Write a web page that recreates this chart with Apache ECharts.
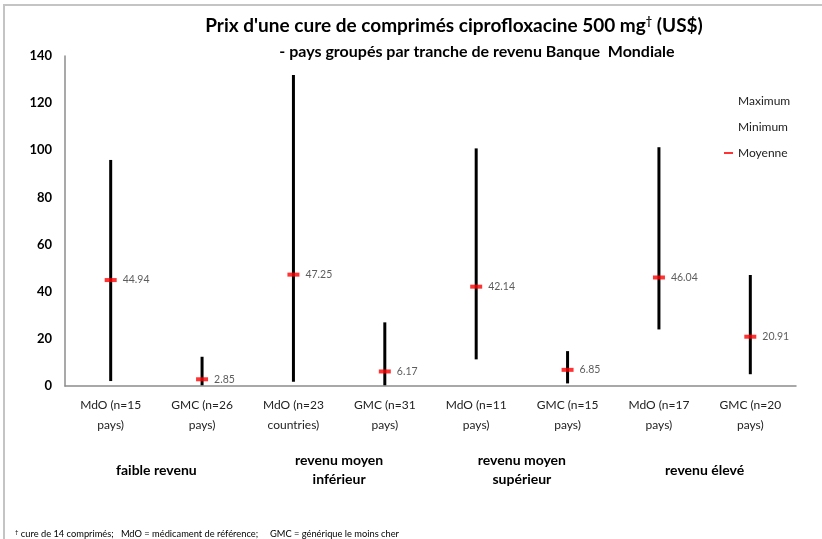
<!DOCTYPE html>
<html>
<head>
<meta charset="utf-8">
<script src="https://cdn.jsdelivr.net/npm/echarts@6/dist/echarts.min.js"></script>
<style>
  html, body { margin: 0; padding: 0; background: #fff; }
  #chart { width: 822px; height: 539px; }
</style>
</head>
<body>
<div id="chart"></div>
<script>
const categories = ['MdO (n=15\npays)', 'GMC (n=26\npays)', 'MdO (n=23\ncountries)', 'GMC (n=31\npays)',
  'MdO (n=11\npays)', 'GMC (n=15\npays)', 'MdO (n=17\npays)', 'GMC (n=20\npays)']
const groups = ['faible revenu', 'revenu moyen\ninférieur', 'revenu moyen\nsupérieur', 'revenu élevé']
const maxima = [95.9, 12.4, 131.9, 27.0, 100.8, 14.8, 101.3, 47.1]
const minima = [2.1, 0.3, 1.8, 0.3, 11.3, 1.1, 24.0, 5.0]
const means = [44.94, 2.85, 47.25, 6.17, 42.14, 6.85, 46.04, 20.91]
const yTicks = [0, 20, 40, 60, 80, 100, 120, 140]

const font = 'Lato'
const chart = echarts.init(document.getElementById('chart'))

const option = {
  animation: false,
  textStyle: { fontFamily: font },
  title: [
    {
      text: "Prix d'une cure de comprimés ciprofloxacine 500 mg{sup|†} (US$)",
      left: 449, top: 11, textAlign: 'center',
      textStyle: {
        fontFamily: font, fontSize: 19, fontWeight: 'bold', color: '#000',
        rich: { sup: { fontFamily: font, fontSize: 11, fontWeight: 'bold', color: '#000', verticalAlign: 'top', padding: [0, 0, 8, 0] } }
      }
    },
    {
      text: '- pays groupés par tranche de revenu Banque  Mondiale',
      left: 472, top: 39, textAlign: 'center',
      textStyle: { fontFamily: font, fontSize: 16, fontWeight: 'bold', color: '#000' }
    },
    {
      text: '{sup|†} cure de 14 comprimés;   MdO = médicament de référence;     GMC = générique le moins cher',
      left: 10, top: 524,
      textStyle: {
        fontFamily: font, fontSize: 9.3, fontWeight: 'normal', color: '#000',
        rich: { sup: { fontSize: 6, verticalAlign: 'top', color: '#000' } }
      }
    }
  ],
  graphic: [{
    type: 'rect', silent: true, z: -1,
    shape: { x: 4, y: 5, width: 840, height: 560 },
    style: { fill: 'none', stroke: '#c4c4c4', lineWidth: 2 }
  }],
  legend: {
    orient: 'vertical', left: 719, top: 90, itemGap: 14,
    itemWidth: 9, itemHeight: 2,
    textStyle: { fontFamily: font, fontSize: 12, color: '#222' },
    data: [
      { name: 'Maximum', icon: 'none' },
      { name: 'Minimum', icon: 'none' },
      { name: 'Moyenne', icon: 'rect', itemStyle: { color: '#ff0000' } }
    ],
    selectedMode: false
  },
  grid: { left: 65, right: 26, top: 56, bottom: 153 },
  xAxis: [
    {
      type: 'category', data: categories,
      axisLine: { lineStyle: { color: '#8c8c8c', width: 1.5 } },
      axisTick: { length: 5, lineStyle: { color: '#8c8c8c' } },
      axisLabel: { fontFamily: font, fontSize: 12, color: '#222', lineHeight: 20, margin: 9, interval: 0 }
    },
    {
      type: 'category', data: groups, position: 'bottom', gridIndex: 0,
      axisLine: { show: false }, axisTick: { show: false },
      axisLabel: { fontFamily: font, fontSize: 14, fontWeight: 'bold', color: '#000', lineHeight: 19, margin: 84, verticalAlign: 'middle', interval: 0 }
    }
  ],
  yAxis: {
    type: 'value', min: 0, max: 140, interval: 20,
    axisLine: { show: true, lineStyle: { color: '#8c8c8c', width: 1.5 } },
    axisTick: { show: false },
    splitLine: { show: false },
    axisLabel: {
      fontFamily: font, fontSize: 13, fontWeight: 'bold', color: '#000', margin: 13,
      formatter: v => (yTicks.includes(v) ? String(v) : '')
    }
  },
  series: [
    {
      name: 'Range', type: 'custom', silent: true, z: 2,
      data: categories.map((c, i) => [i, minima[i], maxima[i]]),
      renderItem: (params, api) => {
        const lo = api.coord([api.value(0), api.value(1)])
        const hi = api.coord([api.value(0), api.value(2)])
        return {
          type: 'line',
          shape: { x1: lo[0], y1: lo[1], x2: hi[0], y2: hi[1] },
          style: { stroke: '#000', lineWidth: 3 }
        }
      }
    },
    { name: 'Maximum', type: 'scatter', symbol: 'none', symbolSize: 0, data: maxima, silent: true },
    { name: 'Minimum', type: 'scatter', symbol: 'none', symbolSize: 0, data: minima, silent: true },
    {
      name: 'Moyenne', type: 'scatter', z: 5, data: means,
      symbol: 'rect', symbolSize: [12, 4],
      itemStyle: { color: '#ff0000' },
      label: {
        show: true, position: 'right', distance: 6,
        fontFamily: font, fontSize: 10.5, color: '#333',
        formatter: p => p.value.toFixed(2)
      }
    }
  ]
}

chart.setOption(option, true)
window.addEventListener('resize', () => {
  chart.resize()
})
</script>
</body>
</html>
